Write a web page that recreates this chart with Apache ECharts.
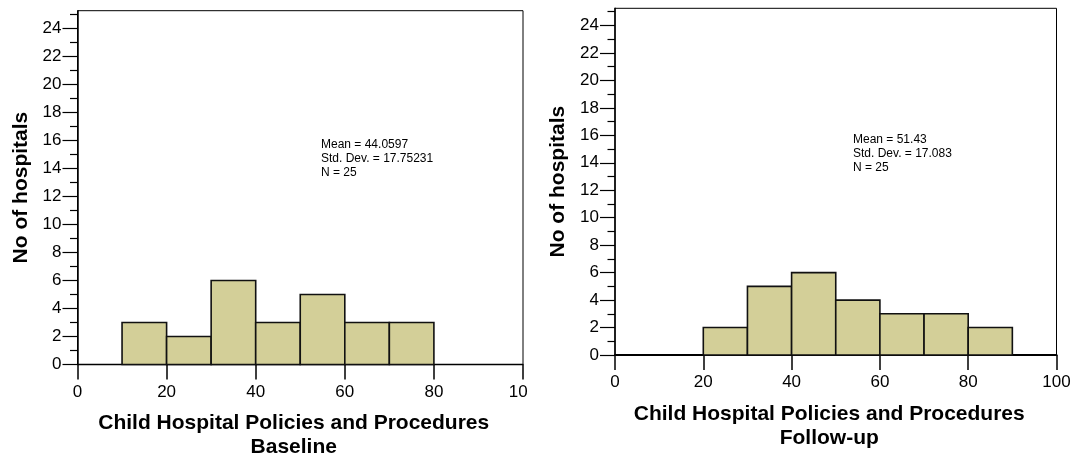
<!DOCTYPE html>
<html>
<head>
<meta charset="utf-8">
<script src="https://cdn.jsdelivr.net/npm/echarts@6/dist/echarts.min.js"></script>
<style>
  html, body { margin: 0; padding: 0; background: #fff; }
  #wrap { position: relative; width: 1075px; height: 460px; overflow: hidden; }
  #left { position: absolute; left: 0; top: 0; width: 528px; height: 460px; }
  #right { position: absolute; left: 540px; top: 0; width: 535px; height: 460px; }
</style>
</head>
<body>
<div id="wrap"><div id="left"></div><div id="right"></div></div>
<script>
// ---- data ----
const baselineBinStarts = [10, 20, 30, 40, 50, 60, 70];
const baselineCounts    = [3, 2, 6, 3, 5, 3, 3];
const followupBinStarts = [20, 30, 40, 50, 60, 70, 80];
const followupCounts    = [2, 5, 6, 4, 3, 3, 2];
const binWidth = 10;
const yTickLabels  = [0, 2, 4, 6, 8, 10, 12, 14, 16, 18, 20, 22, 24];
const yMinorTicks  = [1, 3, 5, 7, 9, 11, 13, 15, 17, 19, 21, 23, 25];
const xTickLabels  = [0, 20, 40, 60, 80, 100];
const yTitle = 'No of hospitals';
const xTitleMain = 'Child Hospital Policies and Procedures';
const baselineSubtitle = 'Baseline';
const followupSubtitle = 'Follow-up';
const baselineStats = ['Mean = 44.0597', 'Std. Dev. = 17.75231', 'N = 25'];
const followupStats = ['Mean = 51.43', 'Std. Dev. = 17.083', 'N = 25'];

const FONT = "'Liberation Sans', Arial, Helvetica, sans-serif";

function buildOption(starts, counts, subtitle, stats, grid, statsPos, xLineWidth) {
  const data = starts.map((s, i) => [s, s + binWidth, counts[i]]);
  return {
    animation: false,
    backgroundColor: '#fff',
    grid: Object.assign({ show: true, borderColor: '#000', borderWidth: 1, backgroundColor: 'transparent', containLabel: false, outerBoundsMode: 'none' }, grid),
    xAxis: {
      type: 'value', min: xTickLabels[0], max: xTickLabels[xTickLabels.length - 1], interval: 20,
      axisLine: { show: true, onZero: false, lineStyle: { color: '#000', width: xLineWidth } },
      axisTick: { show: true, length: 15, lineStyle: { color: '#000', width: 1.5 } },
      axisLabel: { show: true, margin: 19, fontSize: 17, color: '#000', fontFamily: FONT, hideOverlap: false },
      splitLine: { show: false },
      name: xTitleMain + '\n' + subtitle,
      nameLocation: 'middle', nameGap: 47,
      nameTextStyle: { fontSize: 21, fontWeight: 'bold', color: '#000', fontFamily: FONT, lineHeight: 24, padding: [0, 13, 0, 0] }
    },
    yAxis: [
      {
        type: 'value', min: 0, max: 25.25, position: 'left',
        axisLine: { show: true, lineStyle: { color: '#000', width: 1.5 } },
        axisTick: { show: true, length: 15, customValues: yTickLabels, lineStyle: { color: '#000', width: 1.2 } },
        axisLabel: { show: true, margin: 16, fontSize: 17, color: '#000', fontFamily: FONT, customValues: yTickLabels },
        splitLine: { show: false },
        name: yTitle, nameLocation: 'middle', nameGap: 45, nameRotate: 90,
        nameTextStyle: { fontSize: 21, fontWeight: 'bold', color: '#000', fontFamily: FONT }
      },
      {
        type: 'value', min: 0, max: 25.25, position: 'left', offset: 0,
        axisLine: { show: false },
        axisTick: { show: true, length: 7.5, customValues: yMinorTicks, lineStyle: { color: '#000', width: 1.2 } },
        axisLabel: { show: false },
        splitLine: { show: false }
      }
    ],
    graphic: [{
      type: 'text', left: statsPos[0], top: statsPos[1], silent: true,
      style: { text: stats.join('\n'), font: '12px ' + FONT, lineHeight: 14, fill: '#000' }
    }],
    series: [{
      type: 'custom', xAxisIndex: 0, yAxisIndex: 0,
      encode: { x: [0, 1], y: 2 },
      data: data,
      renderItem: function (params, api) {
        const p0 = api.coord([api.value(0), 0]);
        const p1 = api.coord([api.value(1), api.value(2)]);
        return {
          type: 'rect',
          shape: { x: p0[0], y: p1[1], width: p1[0] - p0[0], height: p0[1] - p1[1] },
          style: { fill: '#D3CF98', stroke: '#111', lineWidth: 1.6 }
        };
      }
    }]
  };
}

const left = echarts.init(document.getElementById('left'), null, { renderer: 'canvas' });
left.setOption(buildOption(baselineBinStarts, baselineCounts, baselineSubtitle, baselineStats,
  { left: 77.5, right: 5, top: 10.7, bottom: 95.5 }, [321, 138], 1.3));

const right = echarts.init(document.getElementById('right'), null, { renderer: 'canvas' });
right.setOption(buildOption(followupBinStarts, followupCounts, followupSubtitle, followupStats,
  { left: 75, right: 18.5, top: 8.3, bottom: 105 }, [313, 133], 2));
</script>
</body>
</html>
